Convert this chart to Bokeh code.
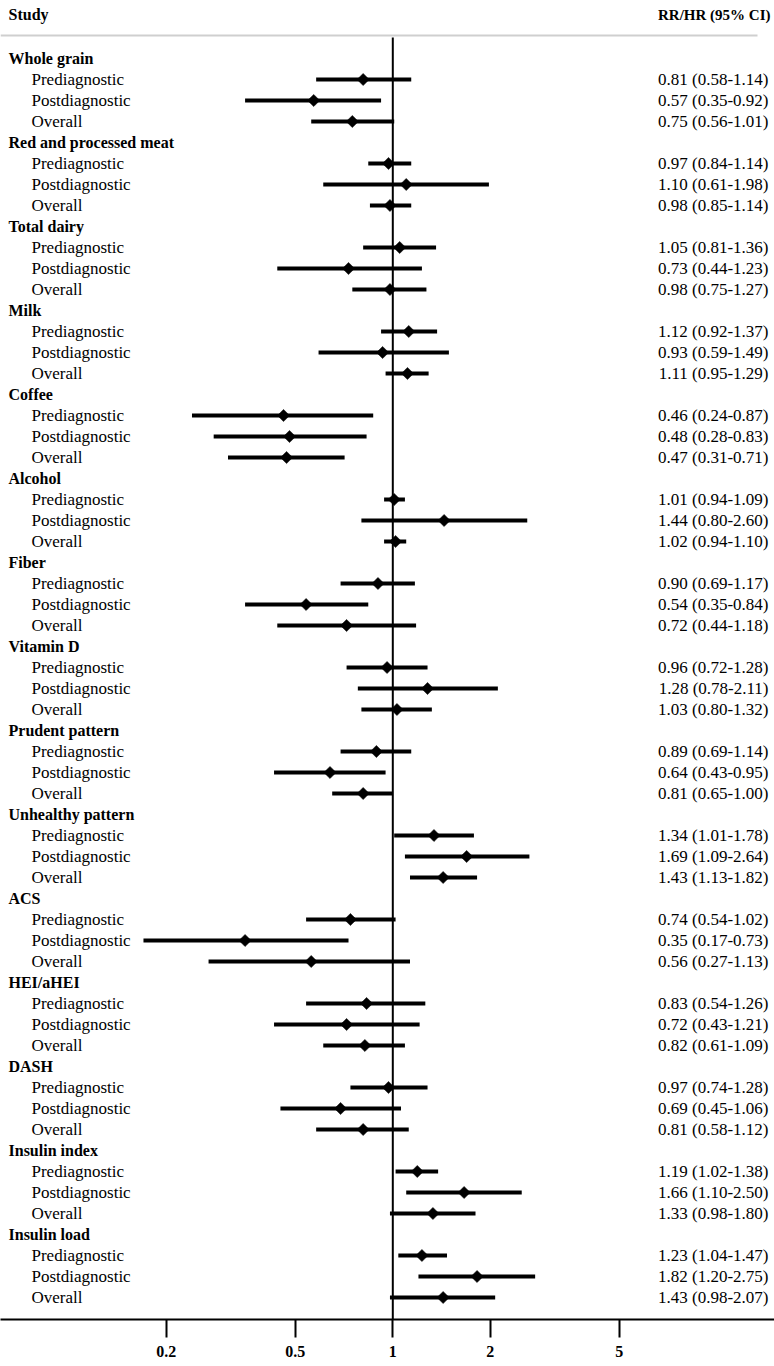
import math
from bokeh.plotting import figure
from bokeh.models import (Range1d, FixedTicker, CustomJSTickFormatter, ColumnDataSource,
                          LabelSet, Label)
from bokeh.embed import file_html
from bokeh.resources import INLINE
from bokeh.core.properties import value

groups = ["Whole grain", "Red and processed meat", "Total dairy", "Milk", "Coffee",
          "Alcohol", "Fiber", "Vitamin D", "Prudent pattern", "Unhealthy pattern",
          "ACS", "HEI/aHEI", "DASH", "Insulin index", "Insulin load"]
subgroups = ["Prediagnostic", "Postdiagnostic", "Overall"]

est = [[0.81, 0.57, 0.75], [0.97, 1.10, 0.98], [1.05, 0.73, 0.98], [1.12, 0.93, 1.11],
       [0.46, 0.48, 0.47], [1.01, 1.44, 1.02], [0.90, 0.54, 0.72], [0.96, 1.28, 1.03],
       [0.89, 0.64, 0.81], [1.34, 1.69, 1.43], [0.74, 0.35, 0.56], [0.83, 0.72, 0.82],
       [0.97, 0.69, 0.81], [1.19, 1.66, 1.33], [1.23, 1.82, 1.43]]
lo = [[0.58, 0.35, 0.56], [0.84, 0.61, 0.85], [0.81, 0.44, 0.75], [0.92, 0.59, 0.95],
      [0.24, 0.28, 0.31], [0.94, 0.80, 0.94], [0.69, 0.35, 0.44], [0.72, 0.78, 0.80],
      [0.69, 0.43, 0.65], [1.01, 1.09, 1.13], [0.54, 0.17, 0.27], [0.54, 0.43, 0.61],
      [0.74, 0.45, 0.58], [1.02, 1.10, 0.98], [1.04, 1.20, 0.98]]
hi = [[1.14, 0.92, 1.01], [1.14, 1.98, 1.14], [1.36, 1.23, 1.27], [1.37, 1.49, 1.29],
      [0.87, 0.83, 0.71], [1.09, 2.60, 1.10], [1.17, 0.84, 1.18], [1.28, 2.11, 1.32],
      [1.14, 0.95, 1.00], [1.78, 2.64, 1.82], [1.02, 0.73, 1.13], [1.26, 1.21, 1.09],
      [1.28, 1.06, 1.12], [1.38, 2.50, 1.80], [1.47, 2.75, 2.07]]
ticks = [0.2, 0.5, 1, 2, 5]
col_left = "Study"
col_right = "RR/HR (95% CI)"

# ---- layout (pixels) ----
W, H = 774, 1366
AXIS_Y = 1319                    # axis line position
ROW = 21
FIRST_ROW_Y = 58
X_ONE = 392.3                    # pixel of RR = 1
PX_DECADE = 324.0
y_start = (AXIS_Y - FIRST_ROW_Y) / ROW
y_end = -FIRST_ROW_Y / ROW
x_start = 10 ** ((0 - X_ONE) / PX_DECADE)
x_end = 10 ** ((W - X_ONE) / PX_DECADE)
x_rule_end = 10 ** ((757 - X_ONE) / PX_DECADE)
FONT = "Liberation Serif"

p = figure(width=W, height=H, x_axis_type="log",
           x_range=Range1d(x_start, x_end), y_range=Range1d(y_start, y_end),
           output_backend="svg", toolbar_location=None, y_axis_location=None,
           min_border_left=0, min_border_right=0, min_border_top=0,
           min_border_bottom=H - AXIS_Y)
p.xgrid.visible = False
p.ygrid.visible = False
p.outline_line_color = None
p.background_fill_color = "white"
p.border_fill_color = "white"

ax = p.xaxis[0]
ax.ticker = FixedTicker(ticks=ticks, minor_ticks=[])
ax.formatter = CustomJSTickFormatter(code="return tick.toString()")
ax.major_tick_in = 0
ax.major_tick_out = 18
ax.major_tick_line_width = 2
ax.major_tick_line_color = "black"
ax.minor_tick_line_color = None
ax.axis_line_width = 2
ax.axis_line_color = "black"
ax.major_label_standoff = 8
ax.major_label_text_font = FONT
ax.major_label_text_font_style = "bold"
ax.major_label_text_font_size = "16px"
ax.major_label_text_color = "black"

# ---- rows ----
hdr_y, sub_y, sub_lab, xs, los, his, vals = [], [], [], [], [], [], []
for g in range(len(groups)):
    hdr_y.append(g * 4)
    for k in range(3):
        sub_y.append(g * 4 + 1 + k)
        sub_lab.append(subgroups[k])
        xs.append(est[g][k])
        los.append(lo[g][k])
        his.append(hi[g][k])
        vals.append("%.2f (%.2f-%.2f)" % (est[g][k], lo[g][k], hi[g][k]))

src = ColumnDataSource(dict(y=sub_y, x=xs, lo=los, hi=his, lab=sub_lab, val=vals,
                            xl=[x_start] * len(sub_y), xr=[x_end] * len(sub_y)))
hsrc = ColumnDataSource(dict(y=hdr_y, lab=groups, xl=[x_start] * len(groups)))

# header rule and column titles
rule_y = (35 - FIRST_ROW_Y) / ROW
p.segment(x0=[x_start], x1=[x_rule_end], y0=[rule_y], y1=[rule_y],
          line_color="#cfcfcf", line_width=2)
head_y = (14 - FIRST_ROW_Y) / ROW
p.add_layout(Label(x=x_start, y=head_y, text=col_left, x_offset=8, text_font=FONT,
                   text_font_style="bold", text_font_size="16px", text_baseline="middle",
                   text_align="left", text_color="black"))
p.add_layout(Label(x=x_end, y=head_y, text=col_right, x_offset=-4, text_font=FONT,
                   text_font_style="bold", text_font_size="15px", text_baseline="middle",
                   text_align="right", text_color="black"))

# reference line at RR = 1
p.segment(x0=[1], x1=[1], y0=[(37 - FIRST_ROW_Y) / ROW], y1=[y_start],
          line_color="black", line_width=2)

# CI lines and point estimates
p.segment(x0="lo", x1="hi", y0="y", y1="y", source=src, line_color="black", line_width=4)
p.scatter(x="x", y="y", source=src, marker="square", angle=math.pi / 4, size=8.6,
          fill_color="black", line_color="black", line_width=0.5)

# text columns
p.add_layout(LabelSet(x="xl", y="y", text="lab", source=hsrc, x_offset=8,
                      text_font=value(FONT), text_font_style="bold", text_font_size="16px",
                      text_baseline="middle", text_align="left", text_color="black"))
p.add_layout(LabelSet(x="xl", y="y", text="lab", source=src, x_offset=31,
                      text_font=value(FONT), text_font_size="17px",
                      text_baseline="middle", text_align="left", text_color="black"))
p.add_layout(LabelSet(x="xr", y="y", text="val", source=src, x_offset=-6,
                      text_font=value(FONT), text_font_size="17px",
                      text_baseline="middle", text_align="right", text_color="black"))

open("out.html", "w").write(file_html(p, INLINE))
